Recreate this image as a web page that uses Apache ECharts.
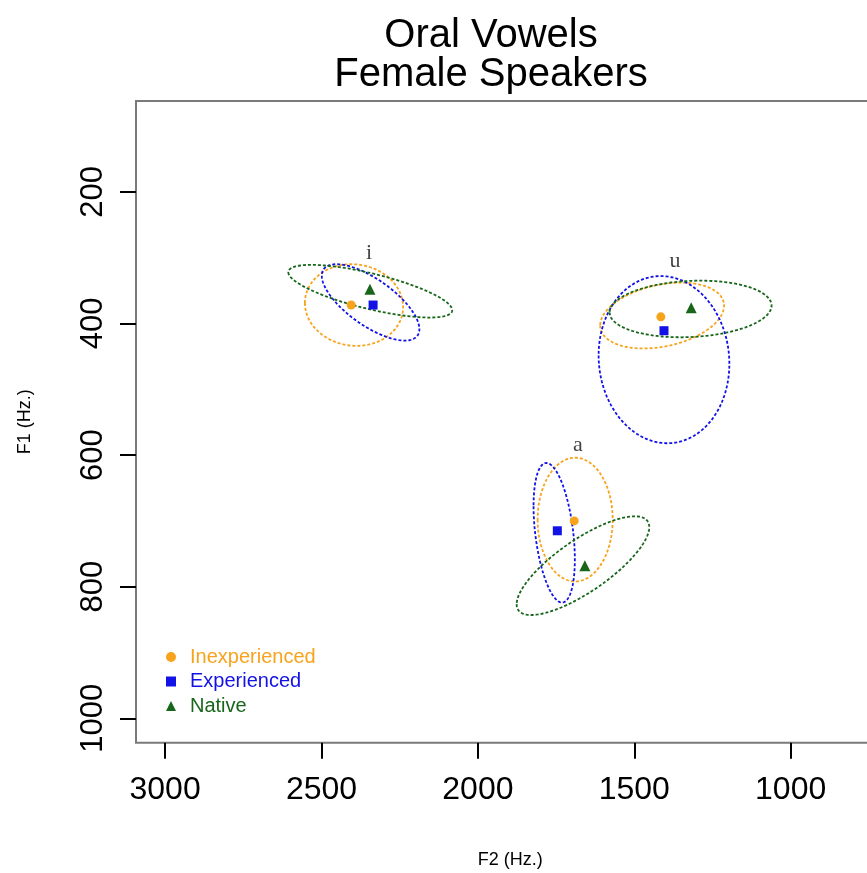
<!DOCTYPE html>
<html>
<head>
<meta charset="utf-8">
<script src="https://cdn.jsdelivr.net/npm/echarts@6/dist/echarts.min.js"></script>
<style>
  html, body { margin: 0; padding: 0; background: #ffffff; }
  #chart { width: 867px; height: 873px; }
</style>
</head>
<body>
<div id="chart"></div>
<script>
// Speaker groups and vowels
const groups = ['Inexperienced', 'Experienced', 'Native'];
const vowels = ['i', 'u', 'a'];

// Mean formants per vowel (i, u, a) as [F2, F1] in Hz
const inexperiencedMeans = [[2405, 372], [1415, 390], [1692, 700]];
const experiencedMeans   = [[2335, 372], [1405, 411], [1746, 715]];
const nativeMeans        = [[2345, 348], [1318, 376], [1658, 768]];

// Dispersion ellipses per vowel: [centre F2, centre F1, F2 radius, F1 radius, correlation]
const inexperiencedEllipses = [[2396, 372, 157, 62, -0.05], [1411, 388, 198, 50, 0.30], [1689, 698, 120, 94, 0.00]];
const experiencedEllipses   = [[2343, 368, 156, 58, -0.70], [1405, 455, 209, 127, -0.05], [1756, 718, 66, 106, -0.38]];
const nativeEllipses        = [[2344, 351, 262, 40, -0.72], [1320, 378, 259, 43, 0.12], [1664, 768, 212, 75, 0.78]];

// Where each vowel symbol is written, [F2, F1]
const vowelLabelPos = [[2348, 293], [1370, 305], [1680, 585]];

// Tick values
const f2Ticks = [3000, 2500, 2000, 1500, 1000];
const f1Ticks = [200, 400, 600, 800, 1000];

const colors = { Inexperienced: '#F7A31C', Experienced: '#1212E6', Native: '#17661A' };
const symbols = { Inexperienced: 'circle', Experienced: 'rect', Native: 'triangle' };
const symbolSizes = { Inexperienced: 9, Experienced: 9, Native: 11 };
const FONT = 'Liberation Sans, Arial, Helvetica, sans-serif';

// Outline of a correlation ellipse, drawn through the axis scales
function ellipseRenderer(color) {
  return function (params, api) {
    const cx = api.value(0), cy = api.value(1);
    const sx = api.value(2), sy = api.value(3), r = api.value(4);
    const phi = Math.acos(r);
    const pts = [];
    const n = 160;
    for (let k = 0; k <= n; k++) {
      const t = 2 * Math.PI * k / n;
      pts.push(api.coord([cx + sx * Math.cos(t), cy + sy * Math.cos(t - phi)]));
    }
    return {
      type: 'polyline',
      shape: { points: pts },
      style: { stroke: color, fill: null, lineWidth: 1.8, lineDash: [3, 2] },
      silent: true
    };
  };
}

const meansByGroup = { Inexperienced: inexperiencedMeans, Experienced: experiencedMeans, Native: nativeMeans };
const ellipsesByGroup = { Inexperienced: inexperiencedEllipses, Experienced: experiencedEllipses, Native: nativeEllipses };

const series = [];
groups.forEach(function (g) {
  series.push({
    name: g,
    type: 'scatter',
    data: meansByGroup[g],
    symbol: symbols[g],
    symbolSize: symbolSizes[g],
    symbolKeepAspect: true,
    itemStyle: { color: colors[g], opacity: 1 },
    z: 5,
    silent: true
  });
});
groups.forEach(function (g) {
  series.push({
    name: g,
    type: 'custom',
    renderItem: ellipseRenderer(colors[g]),
    data: ellipsesByGroup[g],
    encode: { x: 0, y: 1 },
    z: 3,
    silent: true
  });
});
series.push({
  name: 'vowels',
  type: 'scatter',
  data: vowelLabelPos.map(function (p, i) { return [p[0], p[1], vowels[i]]; }),
  symbolSize: 0,
  silent: true,
  label: {
    show: true,
    position: 'inside',
    formatter: function (p) { return p.value[2]; },
    fontFamily: 'Liberation Serif, DejaVu Serif, serif',
    fontSize: 22,
    color: '#111'
  },
  z: 6
});

const plainNumber = function (v) { return String(v); };

const chart = echarts.init(document.getElementById('chart'), null, { renderer: 'canvas' });
chart.setOption({
  animation: false,
  backgroundColor: '#ffffff',
  title: {
    text: 'Oral Vowels\nFemale Speakers',
    left: 491,
    top: 16,
    padding: 0,
    textAlign: 'center',
    textStyle: { fontFamily: FONT, fontSize: 40, fontWeight: 'normal', color: '#000', lineHeight: 39 }
  },
  legend: {
    orient: 'vertical',
    left: 166,
    top: 647,
    padding: 0,
    itemWidth: 10,
    itemHeight: 10,
    itemGap: 4.5,
    selectedMode: false,
    symbolKeepAspect: true,
    data: groups.map(function (g) {
      return { name: g, textStyle: { color: colors[g] } };
    }),
    textStyle: { fontFamily: FONT, fontSize: 20, lineHeight: 20, padding: [0, 0, 0, 9] }
  },
  grid: {
    left: 136,
    top: 101,
    width: 748.5,
    height: 641.7,
    show: true,
    borderColor: '#7a7a7a',
    borderWidth: 2,
    backgroundColor: 'transparent',
    outerBoundsMode: 'none',
    containLabel: false
  },
  xAxis: {
    type: 'value',
    inverse: true,
    min: 700,
    max: 3093,
    axisLine: { show: false },
    splitLine: { show: false },
    axisTick: { show: true, length: 16, lineStyle: { color: '#000', width: 2 }, customValues: f2Ticks },
    axisLabel: { customValues: f2Ticks, formatter: plainNumber, fontFamily: FONT, fontSize: 32, color: '#000', margin: 31 },
    name: 'F2 (Hz.)',
    nameLocation: 'middle',
    nameGap: 108,
    nameTextStyle: { fontFamily: FONT, fontSize: 18, color: '#000' }
  },
  yAxis: {
    type: 'value',
    inverse: true,
    min: 62,
    max: 1037,
    axisLine: { show: false },
    splitLine: { show: false },
    axisTick: { show: true, length: 16, lineStyle: { color: '#000', width: 2 }, customValues: f1Ticks },
    axisLabel: { customValues: f1Ticks, formatter: plainNumber, rotate: 90, fontFamily: FONT, fontSize: 31, color: '#000', margin: 27 },
    name: 'F1 (Hz.)',
    nameLocation: 'middle',
    nameGap: 102,
    nameRotate: 90,
    nameTextStyle: { fontFamily: FONT, fontSize: 18, color: '#000' }
  },
  series: series
});
</script>
</body>
</html>
